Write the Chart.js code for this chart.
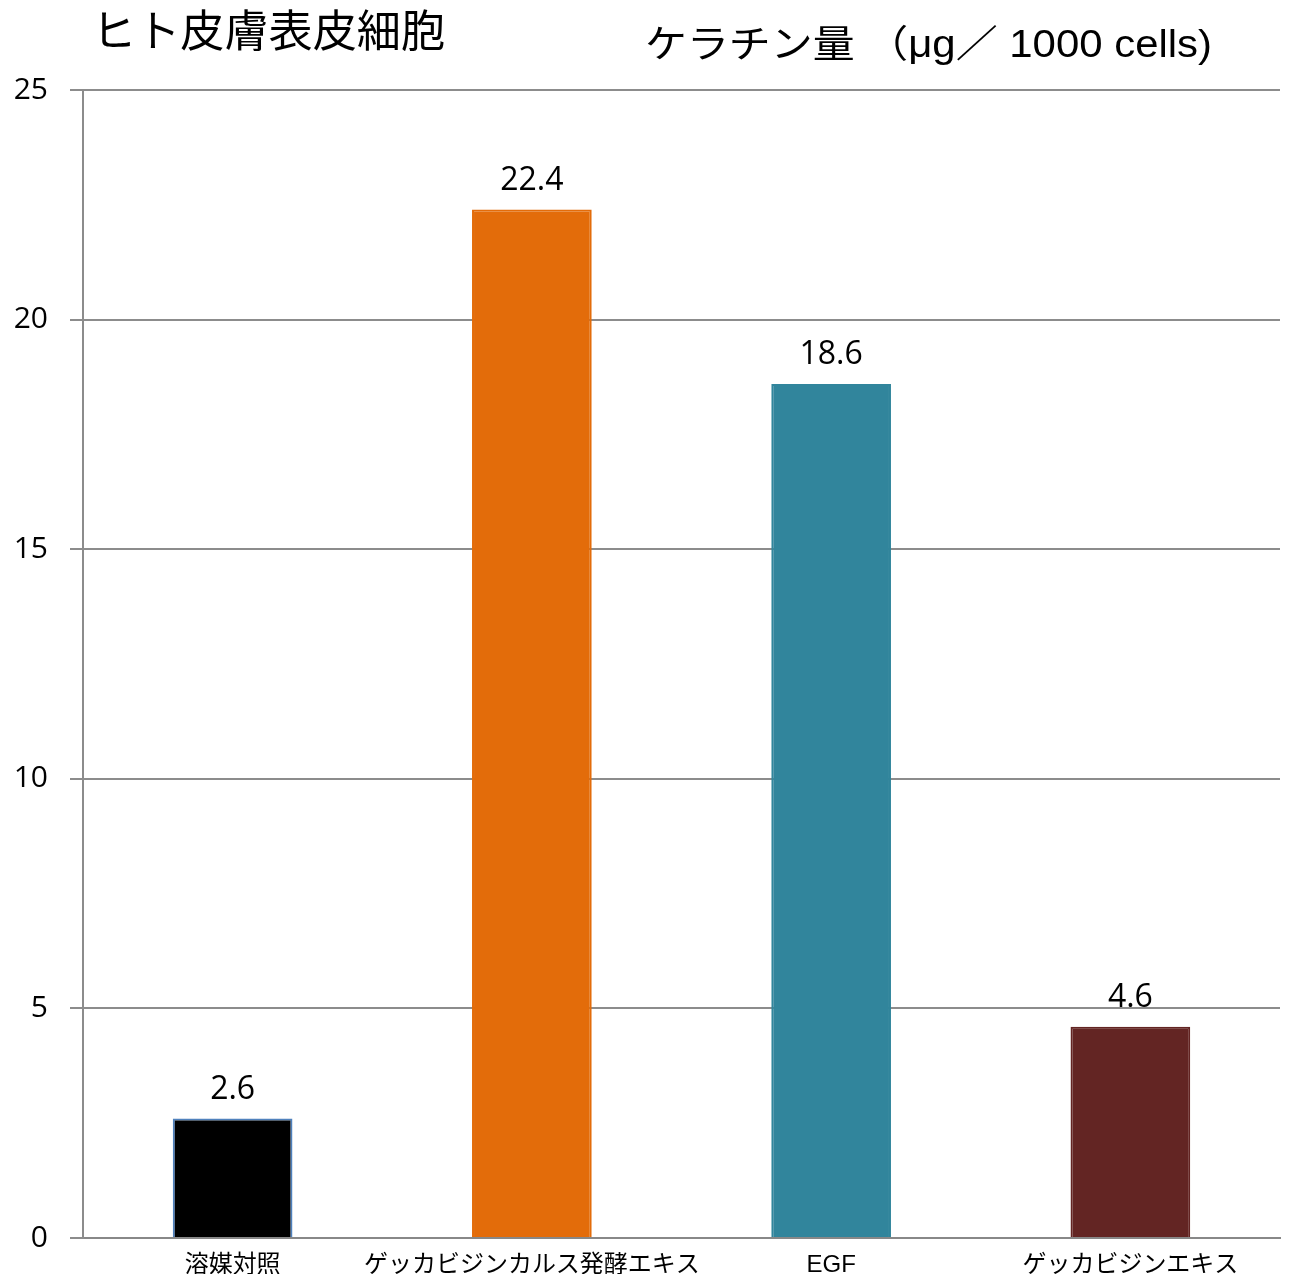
<!DOCTYPE html>
<html><head><meta charset="utf-8">
<script src="https://cdn.jsdelivr.net/npm/chart.js@4/dist/chart.umd.min.js"></script>
<style>html,body{margin:0;padding:0;background:#fff}#wrap{width:1290px;height:1278px}</style>
</head><body><div id="wrap"><canvas id="c"></canvas></div>
<script>
// Data
const categories = ['溶媒対照', 'ゲッカビジンカルス発酵エキス', 'EGF', 'ゲッカビジンエキス'];
const keratin = [2.6, 22.4, 18.6, 4.6];
const barColors = ['#000000', '#e36c0a', '#31859c', '#632523'];
const barBorders = ['#4f81bd', '#e36c0a', '#31859c', '#632523'];
const yTicks = [0, 5, 10, 15, 20, 25];
const titleLeft = 'ヒト皮膚表皮細胞';
const titleRight = 'ケラチン量 （μg／ 1000 cells)';

const JP = '"Liberation Sans", "Noto Sans CJK JP", sans-serif';

// draw text squeezed to a given width
function fitText(ctx, txt, x, y, w, font){
  ctx.save();
  ctx.font = font;
  const m = ctx.measureText(txt).width;
  ctx.translate(x, y);
  ctx.scale(w / m, 1);
  ctx.fillText(txt, 0, 0);
  ctx.restore();
}

const extras = {
  id: 'extras',
  afterDatasetsDraw(chart){
    const {ctx} = chart;
    const meta = chart.getDatasetMeta(0);
    ctx.save();
    ctx.fillStyle = '#000';
    ctx.textAlign = 'center';
    ctx.textBaseline = 'bottom';
    ctx.font = '32px "Open Sans", sans-serif';
    meta.data.forEach((bar, i)=>{
      ctx.fillText(keratin[i].toFixed(1), bar.x, bar.y - 13);
    });
    ctx.textAlign = 'left';
    ctx.textBaseline = 'middle';
    fitText(ctx, titleLeft, 92, 30, 353, '44px "Noto Sans CJK JP", sans-serif');
    fitText(ctx, titleRight, 645, 47, 567, '38px ' + JP);
    ctx.restore();
  }
};

new Chart(document.getElementById('c'), {
  type: 'bar',
  data: { labels: categories, datasets: [{
    data: keratin, backgroundColor: barColors, borderColor: barBorders,
    borderWidth: 2, barPercentage: 0.4, categoryPercentage: 1
  }]},
  options: {
    responsive: true, maintainAspectRatio: false, animation: false,
    layout: { padding: { top: 90, right: 10, left: 0, bottom: 0 } },
    plugins: { legend: {display:false}, tooltip: {enabled:false} },
    scales: {
      x: {
        grid: { display: false },
        border: { color: '#888', width: 2 },
        ticks: { color: '#000', font: { family: JP, size: 24 }, padding: 5, maxRotation: 0, autoSkip: false },
        afterFit(s){ s.height = 36; }
      },
      y: {
        min: 0, max: 25,
        afterBuildTicks(s){ s.ticks = yTicks.map(v=>({value:v})); },
        grid: { color: '#8c8c8c', lineWidth: 2, tickLength: 13 },
        border: { color: '#8c8c8c', width: 2 },
        ticks: { color: '#000', font: { family: '"Open Sans", sans-serif', size: 30 }, padding: 22 },
        afterFit(s){ s.width = 83; }
      }
    }
  },
  plugins: [extras]
});
</script>
</body></html>
